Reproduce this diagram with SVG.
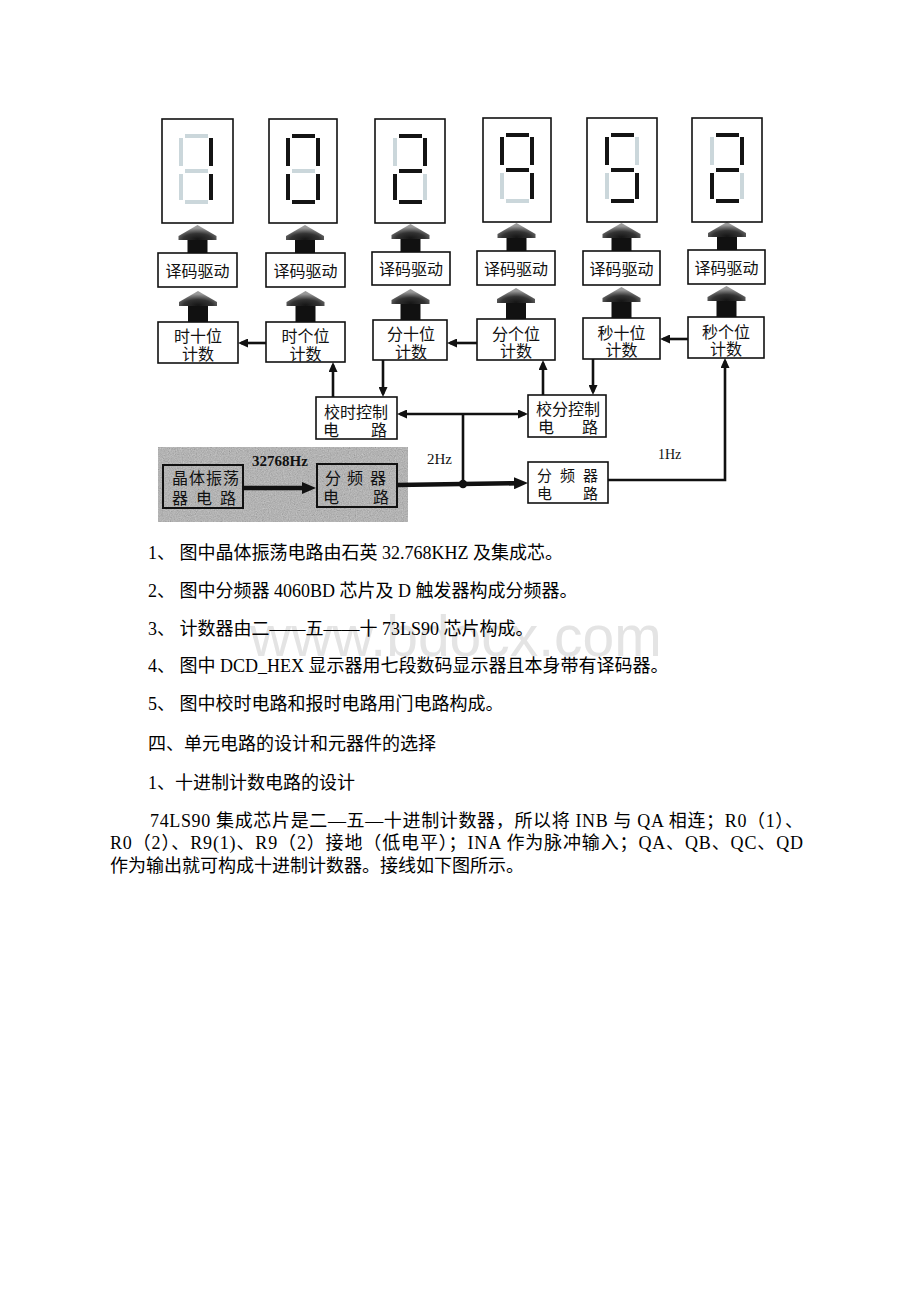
<svg xmlns="http://www.w3.org/2000/svg" xmlns:xlink="http://www.w3.org/1999/xlink" width="920" height="1302" viewBox="0 0 920 1302">
<defs>
<style>
.box{fill:#fff;stroke:#111;stroke-width:1.6}
.t{font-family:'Liberation Serif','Noto Sans CJK SC',serif;fill:#111}
.lbl{font-size:16px;text-anchor:middle}
.sm{font-size:15px}
.on{fill:#141414}
.off{fill:#cbd7db}
.ln{stroke:#111;stroke-width:2.6;fill:none}
.thick{stroke:#111;stroke-width:4.6;fill:none}
.doc{font-family:'Liberation Serif','Noto Sans CJK SC',serif;font-size:18px;fill:#000}
</style>
<marker id="ah" markerUnits="userSpaceOnUse" markerWidth="10" markerHeight="9" refX="7" refY="4.5" orient="auto-start-reverse"><path d="M0,0 L10,4.5 L0,9 Z" fill="#111"/></marker>
<marker id="bah" markerUnits="userSpaceOnUse" markerWidth="14" markerHeight="12" refX="4" refY="6" orient="auto"><path d="M0,0 L14,6 L0,12 Z" fill="#111"/></marker>
<radialGradient id="hg" cx="0.5" cy="0.95" r="0.75">
<stop offset="0" stop-color="#151515"/>
<stop offset="0.5" stop-color="#333"/>
<stop offset="1" stop-color="#9a9a9a"/>
</radialGradient>
<g id="fat"><rect x="-10" y="13" width="20" height="20" fill="#111"/><path d="M0,0 L19,11 L19,15 L-19,15 L-19,11 Z" fill="url(#hg)"/></g>
<rect id="sa" x="23" y="15" width="23" height="4"/>
<rect id="sb" x="47" y="19" width="4" height="28"/>
<rect id="sc" x="47" y="55" width="4" height="26"/>
<rect id="sd" x="23" y="81" width="23" height="4"/>
<rect id="se" x="17" y="55" width="4" height="26"/>
<rect id="sf" x="17" y="19" width="4" height="28"/>
<rect id="sg" x="23" y="50" width="23" height="4"/>
<filter id="grain" x="0" y="0" width="1" height="1">
<feTurbulence type="fractalNoise" baseFrequency="0.85" numOctaves="2" seed="7"/>
<feColorMatrix type="matrix" values="0.33 0.33 0.33 0 0 0.33 0.33 0.33 0 0 0.33 0.33 0.33 0 0 0 0 0 0 0.55"/>
</filter>
</defs>
<rect width="920" height="1302" fill="#fff"/>

<!-- fat arrows -->
<g id="fat-arrows">
<use xlink:href="#fat" x="197.5" y="225"/>
<use xlink:href="#fat" x="305" y="225"/>
<use xlink:href="#fat" x="410.5" y="224"/>
<use xlink:href="#fat" x="516.5" y="223"/>
<use xlink:href="#fat" x="621.5" y="223"/>
<use xlink:href="#fat" x="727" y="222"/>
<use xlink:href="#fat" x="198" y="291"/>
<use xlink:href="#fat" x="305.5" y="291"/>
<use xlink:href="#fat" x="410.5" y="289"/>
<use xlink:href="#fat" x="516" y="288"/>
<use xlink:href="#fat" x="621.5" y="287"/>
<use xlink:href="#fat" x="726.5" y="286"/>
</g>

<!-- displays -->
<g id="disp1"><rect class="box" x="162" y="119" width="71" height="104"/>
<g transform="translate(162,119)"><use xlink:href="#sa" class="off"/><use xlink:href="#sf" class="off"/><use xlink:href="#sg" class="off"/><use xlink:href="#se" class="off"/><use xlink:href="#sd" class="off"/><use xlink:href="#sb" class="on"/><use xlink:href="#sc" class="on"/></g></g>
<g id="disp2"><rect class="box" x="269" y="119" width="68" height="104"/>
<g transform="translate(269,119)"><use xlink:href="#sg" class="off"/><use xlink:href="#sa" class="on"/><use xlink:href="#sb" class="on"/><use xlink:href="#sc" class="on"/><use xlink:href="#sd" class="on"/><use xlink:href="#se" class="on"/><use xlink:href="#sf" class="on"/></g></g>
<g id="disp3"><rect class="box" x="375" y="119" width="70" height="104"/>
<g transform="translate(376,119)"><use xlink:href="#sf" class="off"/><use xlink:href="#sc" class="off"/><use xlink:href="#sa" class="on"/><use xlink:href="#sb" class="on"/><use xlink:href="#sg" class="on"/><use xlink:href="#se" class="on"/><use xlink:href="#sd" class="on"/></g></g>
<g id="disp4"><rect class="box" x="483" y="118" width="68" height="104"/>
<g transform="translate(483,118)"><use xlink:href="#se" class="off"/><use xlink:href="#sd" class="off"/><use xlink:href="#sa" class="on"/><use xlink:href="#sb" class="on"/><use xlink:href="#sc" class="on"/><use xlink:href="#sf" class="on"/><use xlink:href="#sg" class="on"/></g></g>
<g id="disp5"><rect class="box" x="587" y="118" width="70" height="104"/>
<g transform="translate(588,118)"><use xlink:href="#sb" class="off"/><use xlink:href="#se" class="off"/><use xlink:href="#sa" class="on"/><use xlink:href="#sf" class="on"/><use xlink:href="#sg" class="on"/><use xlink:href="#sc" class="on"/><use xlink:href="#sd" class="on"/></g></g>
<g id="disp6"><rect class="box" x="692" y="118" width="70" height="104"/>
<g transform="translate(693,118)"><use xlink:href="#sf" class="off"/><use xlink:href="#sc" class="off"/><use xlink:href="#sa" class="on"/><use xlink:href="#sb" class="on"/><use xlink:href="#sg" class="on"/><use xlink:href="#se" class="on"/><use xlink:href="#sd" class="on"/></g></g>

<!-- decoders -->
<g id="dec1"><rect class="box" x="158" y="253" width="79" height="34"/><text class="t lbl" x="197.5" y="276.5">译码驱动</text></g>
<g id="dec2"><rect class="box" x="266" y="253" width="79" height="34"/><text class="t lbl" x="305.5" y="276.5">译码驱动</text></g>
<g id="dec3"><rect class="box" x="372" y="252" width="78" height="33"/><text class="t lbl" x="411" y="275">译码驱动</text></g>
<g id="dec4"><rect class="box" x="477" y="251" width="78" height="34"/><text class="t lbl" x="516" y="274.5">译码驱动</text></g>
<g id="dec5"><rect class="box" x="583" y="251" width="77" height="34"/><text class="t lbl" x="621.5" y="274.5">译码驱动</text></g>
<g id="dec6"><rect class="box" x="688" y="250" width="77" height="34"/><text class="t lbl" x="726.5" y="273.5">译码驱动</text></g>

<!-- counters -->
<g id="cnt-hour-tens"><rect class="box" x="158" y="322" width="80" height="41"/><text class="t lbl" x="198" y="342">时十位</text><text class="t lbl" x="198" y="360">计数</text></g>
<g id="cnt-hour-units"><rect class="box" x="266" y="322" width="79" height="40"/><text class="t lbl" x="305.5" y="342">时个位</text><text class="t lbl" x="305.5" y="360">计数</text></g>
<g id="cnt-min-tens"><rect class="box" x="373" y="320" width="74" height="40"/><text class="t lbl" x="411" y="340">分十位</text><text class="t lbl" x="411" y="358">计数</text></g>
<g id="cnt-min-units"><rect class="box" x="477" y="319" width="78" height="41"/><text class="t lbl" x="516" y="340">分个位</text><text class="t lbl" x="516" y="357">计数</text></g>
<g id="cnt-sec-tens"><rect class="box" x="583" y="318" width="77" height="41"/><text class="t lbl" x="621.5" y="339">秒十位</text><text class="t lbl" x="621.5" y="356">计数</text></g>
<g id="cnt-sec-units"><rect class="box" x="688" y="317" width="76" height="41"/><text class="t lbl" x="726" y="338">秒个位</text><text class="t lbl" x="726" y="355">计数</text></g>

<!-- control -->
<g id="ctl-hour"><rect class="box" x="316" y="397" width="81" height="42"/><text class="t lbl" x="356" y="418">校时控制</text><text class="t" font-size="16" x="323" y="436">电</text><text class="t" font-size="16" x="371" y="436">路</text></g>
<g id="ctl-min"><rect class="box" x="528" y="395" width="78" height="42"/><text class="t lbl" x="568" y="415">校分控制</text><text class="t" font-size="16" x="538" y="433">电</text><text class="t" font-size="16" x="582" y="433">路</text></g>

<!-- gray panel -->
<g id="osc-panel">
<rect x="158" y="447" width="250" height="75" fill="#a9a9a9"/>
<rect x="158" y="447" width="250" height="75" fill="#000" filter="url(#grain)"/>
</g>
<g id="osc"><rect x="163" y="465" width="80" height="43" fill="none" stroke="#111" stroke-width="2"/>
<text class="t" font-size="16" x="172" y="484" letter-spacing="1">晶体振荡</text>
<text class="t" font-size="16" x="172" y="504">器</text><text class="t" font-size="16" x="196" y="504">电</text><text class="t" font-size="16" x="220" y="504">路</text></g>
<g id="div1"><rect x="317" y="464" width="80" height="43" fill="none" stroke="#111" stroke-width="2"/>
<text class="t" font-size="16" x="325" y="484">分</text><text class="t" font-size="16" x="347" y="484">频</text><text class="t" font-size="16" x="370" y="484">器</text>
<text class="t" font-size="16" x="323" y="503">电</text><text class="t" font-size="16" x="373" y="503">路</text></g>
<g id="div2"><rect class="box" x="528" y="462" width="80" height="41"/>
<text class="t sm" x="537" y="481">分</text><text class="t sm" x="560" y="481">频</text><text class="t sm" x="583" y="481">器</text>
<text class="t sm" x="537" y="499">电</text><text class="t sm" x="583" y="499">路</text></g>

<!-- connectors -->
<g id="connectors">
<path class="ln" d="M266,343 H241" marker-end="url(#ah)"/>
<path class="ln" d="M477,343 H450" marker-end="url(#ah)"/>
<path class="ln" d="M688,339 H663" marker-end="url(#ah)"/>
<path class="ln" d="M333,397 V365" marker-end="url(#ah)"/>
<path class="ln" d="M383,360 V394" marker-end="url(#ah)"/>
<path class="ln" d="M543,395 V363" marker-end="url(#ah)"/>
<path class="ln" d="M593,359 V392" marker-end="url(#ah)"/>
<path class="ln" d="M400,414 H525" marker-start="url(#ah)" marker-end="url(#ah)"/>
<path class="ln" d="M463,414 V484"/>
<path class="thick" d="M243,488 H306" marker-end="url(#bah)"/>
<path class="thick" d="M397,485 L518,483.2" marker-end="url(#bah)"/>
<circle cx="463" cy="484" r="4.2" fill="#111"/>
<path class="ln" stroke-width="2.3" d="M608,480 H725 V361" marker-end="url(#ah)"/>
</g>

<g id="freq-labels">
<text class="t" font-size="15" font-weight="bold" x="252" y="466">32768Hz</text>
<text class="t" font-size="15" x="427" y="464">2Hz</text>
<text class="t" font-size="14" x="658" y="459">1Hz</text>
</g>

<!-- watermark -->
<text x="250" y="656" font-family="'Liberation Sans',Arial,sans-serif" font-size="57" fill="#e4e4e4">www.bdocx.com</text>

<!-- document text -->
<g id="doc-text">
<text class="doc" x="148" y="559">1、 图中晶体振荡电路由石英 32.768KHZ 及集成芯。</text>
<text class="doc" x="148" y="597">2、 图中分频器 4060BD 芯片及 D 触发器构成分频器。</text>
<text class="doc" x="148" y="635">3、 计数器由二——五——十 73LS90 芯片构成。</text>
<text class="doc" x="148" y="672">4、 图中 DCD_HEX 显示器用七段数码显示器且本身带有译码器。</text>
<text class="doc" x="148" y="710">5、 图中校时电路和报时电路用门电路构成。</text>
<text class="doc" x="148" y="750">四、单元电路的设计和元器件的选择</text>
<text class="doc" x="148" y="789">1、十进制计数电路的设计</text>
<text class="doc" x="150" y="827" textLength="653" lengthAdjust="spacing">74LS90 集成芯片是二—五—十进制计数器，所以将 INB 与 QA 相连；R0（1）、</text>
<text class="doc" x="110" y="849" textLength="693" lengthAdjust="spacing">R0（2）、R9(1)、R9（2）接地（低电平）；INA 作为脉冲输入；QA、QB、QC、QD</text>
<text class="doc" x="110" y="872">作为输出就可构成十进制计数器。接线如下图所示。</text>
</g>
</svg>
